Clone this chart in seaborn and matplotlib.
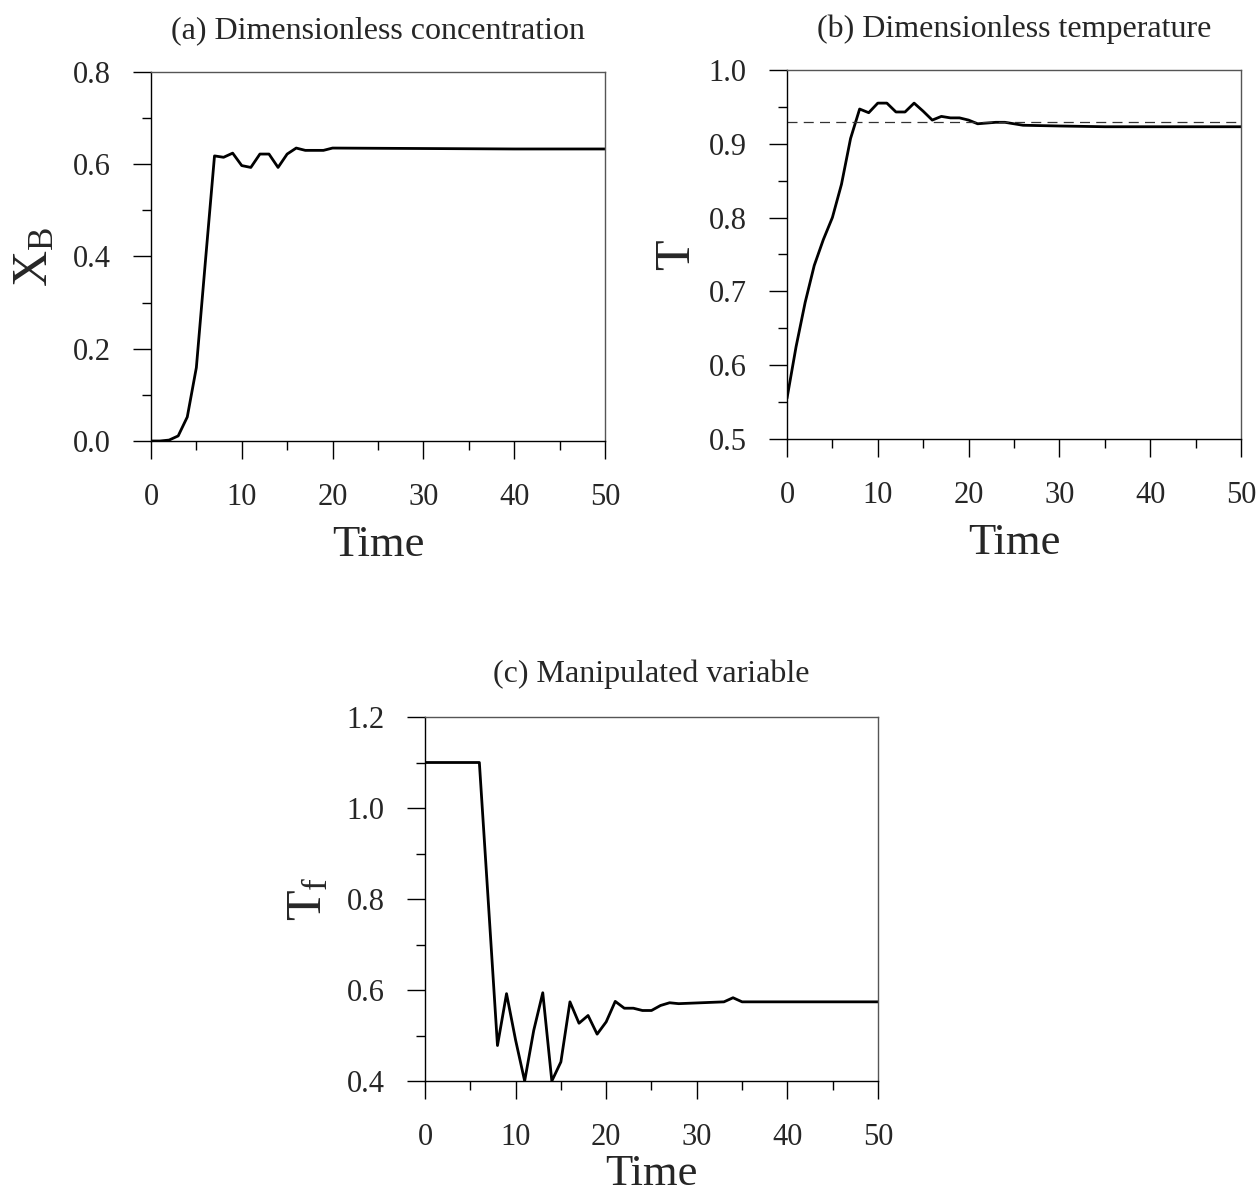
import numpy as np
import pandas as pd
import matplotlib
matplotlib.use("Agg")
import matplotlib.pyplot as plt
import seaborn as sns
from matplotlib.ticker import MultipleLocator, FormatStrFormatter

sns.set_theme(style="ticks")
plt.rcParams['font.family'] = ['Liberation Serif', 'DejaVu Serif']
plt.rcParams['mathtext.fontset'] = 'custom'
plt.rcParams['mathtext.rm'] = 'Liberation Serif'
plt.rcParams['mathtext.it'] = 'Liberation Serif'

# ---- data ----
time_a = [0, 1, 2, 3, 4, 5, 6, 7, 8, 9, 10, 11, 12, 13, 14, 15, 16, 17, 18, 19, 20, 30, 40, 50]
xb = [0.0, 0.0, 0.002, 0.011, 0.052, 0.159, 0.39, 0.618, 0.615, 0.624, 0.597, 0.593, 0.622, 0.622,
      0.593, 0.622, 0.635, 0.630, 0.630, 0.630, 0.635, 0.634, 0.633, 0.633]

time_b = [0, 1, 2, 3, 4, 5, 6, 7, 8, 9, 10, 11, 12, 13, 14, 15, 16, 17, 18, 19, 20, 21, 22, 23,
          24, 25, 26, 30, 35, 40, 45, 50]
temp = [0.555, 0.625, 0.685, 0.735, 0.770, 0.800, 0.845, 0.907, 0.947, 0.942, 0.955, 0.955, 0.943,
        0.943, 0.955, 0.944, 0.932, 0.937, 0.935, 0.935, 0.932, 0.927, 0.928, 0.929, 0.929, 0.927,
        0.925, 0.924, 0.923, 0.923, 0.923, 0.923]
setpoint_T = 0.93

time_c = [0, 1, 2, 3, 4, 5, 6, 7, 8, 9, 10, 11, 12, 13, 14, 15, 16, 17, 18, 19, 20, 21, 22, 23,
          24, 25, 26, 27, 28, 33, 34, 35, 40, 50]
tf = [1.1, 1.1, 1.1, 1.1, 1.1, 1.1, 1.1, 0.79, 0.478, 0.592, 0.49, 0.40, 0.511, 0.594, 0.40, 0.442,
      0.574, 0.527, 0.544, 0.503, 0.530, 0.575, 0.560, 0.560, 0.555, 0.555, 0.566, 0.572, 0.570,
      0.574, 0.583, 0.574, 0.574, 0.574]

titles = ["(a) Dimensionless concentration", "(b) Dimensionless temperature", "(c) Manipulated variable"]
ylabels = [r"$\mathregular{X_B}$", "T", r"$\mathregular{T_f}$"]
xticks = [0, 10, 20, 30, 40, 50]

fig = plt.figure(figsize=(12.6, 11.99), dpi=100)
ax_a = fig.add_axes([0.1198, 0.6322, 0.3603, 0.3078])
ax_b = fig.add_axes([0.6246, 0.6339, 0.3603, 0.3078])
ax_c = fig.add_axes([0.3373, 0.0984, 0.3595, 0.3036])

dfa = pd.DataFrame({"Time": time_a, "v": xb})
dfb = pd.DataFrame({"Time": time_b, "v": temp})
dfc = pd.DataFrame({"Time": time_c, "v": tf})

for ax, df in zip([ax_a, ax_b, ax_c], [dfa, dfb, dfc]):
    sns.lineplot(data=df, x="Time", y="v", ax=ax, color="black", linewidth=2.0)

ax_b.axhline(setpoint_T, color="#333333", linestyle=(0, (8, 5)), linewidth=0.9)

limits = [(0.0, 0.8, 0.2, 0.1), (0.5, 1.0, 0.1, 0.05), (0.4, 1.2, 0.2, 0.1)]
ylab_x = [-0.205, -0.192, -0.204]
xlab_y = [-0.228, -0.228, -0.200]
title_pad = [24, 24, 25]
for ax, (lo, hi, maj, mnr), title, yl, lx, ly, tp in zip(
        [ax_a, ax_b, ax_c], limits, titles, ylabels, ylab_x, xlab_y, title_pad):
    ax.set_xlim(0, 50)
    ax.set_ylim(lo, hi)
    ax.set_xticks(xticks)
    ax.xaxis.set_minor_locator(MultipleLocator(5))
    ax.yaxis.set_major_locator(MultipleLocator(maj))
    ax.yaxis.set_minor_locator(MultipleLocator(mnr))
    ax.yaxis.set_major_formatter(FormatStrFormatter('%.1f'))
    ax.tick_params(axis='both', which='major', direction='out', length=13, width=1.0, color='black')
    ax.tick_params(axis='both', which='minor', direction='out', length=6.5, width=1.0, color='black')
    ax.tick_params(axis='x', which='major', labelsize=22, pad=17)
    ax.tick_params(axis='y', which='major', labelsize=22, pad=16)
    for name, s in ax.spines.items():
        s.set_visible(True)
        s.set_color('black' if name in ('left', 'bottom') else '#555555')
        s.set_linewidth(1.0)
    ax.set_title(title, fontsize=23, pad=tp)
    ax.set_xlabel("Time", fontsize=32)
    ax.set_ylabel(yl, fontsize=36)
    ax.xaxis.set_label_coords(0.5, ly)
    ax.yaxis.set_label_coords(lx, 0.5)

fig.savefig("out.png", dpi=100, facecolor="white")
